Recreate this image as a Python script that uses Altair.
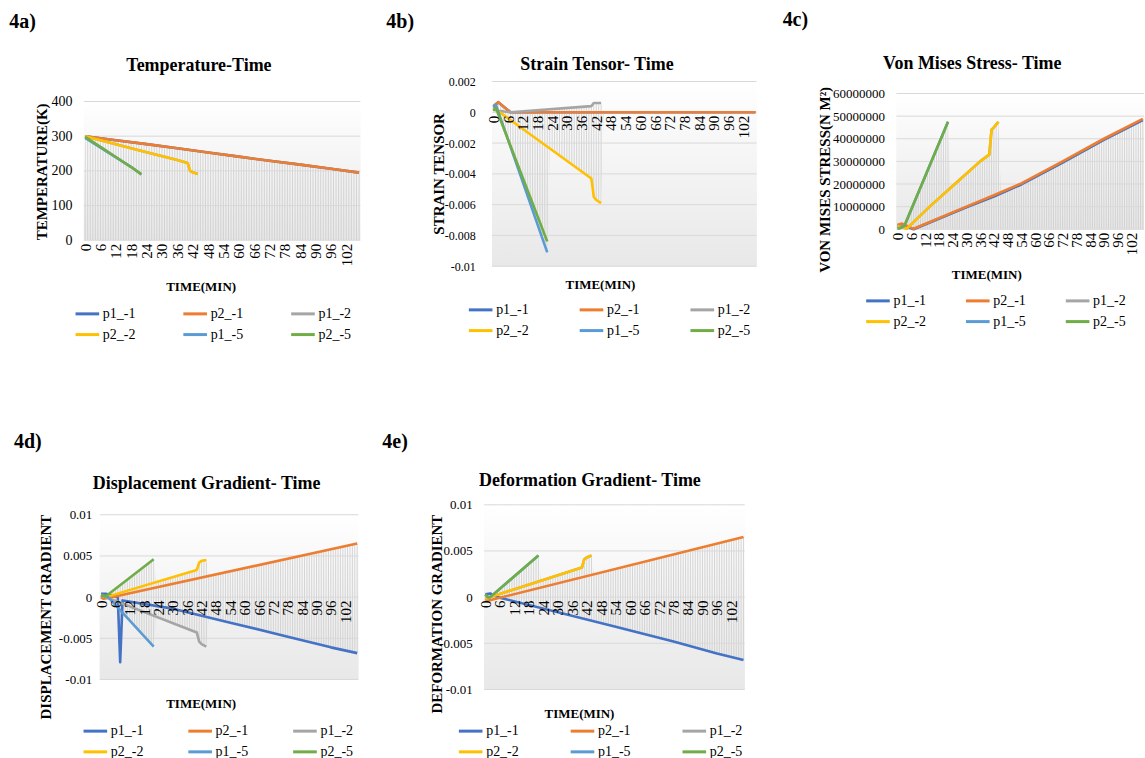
import altair as alt
import pandas as pd

# ---------------- shared data ----------------
SERIES = ["p1_-1", "p2_-1", "p1_-2", "p2_-2", "p1_-5", "p2_-5"]
COLORS = ["#4472C4", "#ED7D31", "#A5A5A5", "#FFC000", "#5B9BD5", "#70AD47"]
MINUTES = list(range(0, 108))          # one category per minute
X_LABELS = list(range(0, 103, 6))      # labelled categories
X_TITLE = "TIME(MIN)"

# ---------------- 4a Temperature ----------------
TEMP_YTICKS = [0, 100, 200, 300, 400]
TEMP_LONG_T = [0, 12, 24, 36, 48, 60, 72, 84, 96, 107]
TEMP_LONG_V = [300, 288, 277, 265, 253, 241, 229, 218, 206, 195]
TEMP_MID_T = [0, 12, 24, 36, 40, 41, 42, 44]
TEMP_MID_V = [300, 277, 254, 231, 223, 200, 196, 191]
TEMP_P15_T = [0, 6, 12, 18, 22]
TEMP_P15_V = [295, 267, 239, 211, 190]
TEMP_P25_T = [0, 6, 12, 18, 22]
TEMP_P25_V = [298, 269, 240, 211, 190]

# ---------------- 4b Strain tensor ----------------
STRAIN_YTICKS = [-0.01, -0.008, -0.006, -0.004, -0.002, 0, 0.002]
STRAIN_P1_T = [0, 2, 7, 107]
STRAIN_P1_V = [0.0004, 0.00066, 0.0, 0.0]
STRAIN_P12_T = [0, 2, 7, 40, 41, 44]
STRAIN_P12_V = [0.0002, 0.0001, 0.0, 0.0004, 0.0006, 0.0006]
STRAIN_P22_T = [0, 40, 41, 42, 44]
STRAIN_P22_V = [0.0003, -0.0043, -0.0055, -0.0057, -0.0059]
STRAIN_P15_T = [0, 1, 22]
STRAIN_P15_V = [0.0003, 0.0005, -0.0091]
STRAIN_P25_T = [0, 1, 22]
STRAIN_P25_V = [0.0001, 0.0003, -0.0084]
STRAIN_TOP_T = [0, 2, 7, 40, 41, 44, 45, 107]
STRAIN_TOP_V = [0.0005, 0.00066, 0.0, 0.0004, 0.0006, 0.0006, 0.0, 0.0]
STRAIN_BOT_T = [0, 2, 22, 23, 40, 41, 42, 44, 45, 107]
STRAIN_BOT_V = [0.0, 0.0, -0.0091, -0.0024, -0.0043, -0.0055, -0.0057, -0.0059, 0.0, 0.0]

# ---------------- 4c Von Mises stress ----------------
VM_YTICKS = [0, 10000000, 20000000, 30000000, 40000000, 50000000, 60000000]
VM_P11_T = [0, 2, 7, 30, 42, 54, 72, 90, 107]
VM_P11_V = [1.5e6, 2.0e6, 0.0, 0.97e7, 1.45e7, 1.98e7, 2.95e7, 3.95e7, 4.82e7]
VM_P21_T = [0, 2, 7, 30, 42, 54, 72, 90, 107]
VM_P21_V = [2.0e6, 2.5e6, 0.2e6, 1.0e7, 1.5e7, 2.03e7, 3.0e7, 4.0e7, 4.88e7]
VM_MID_T = [0, 2, 4, 14, 25, 36, 40, 41, 42, 44]
VM_MID_V = [1.2e6, 1.0e6, 0.3e6, 1.0e7, 2.0e7, 3.0e7, 3.3e7, 4.4e7, 4.5e7, 4.75e7]
VM_SHORT_T = [0, 1, 3, 22]
VM_SHORT_V = [0.3e6, 0.5e6, 1.5e6, 4.75e7]
VM_TOP_T = [0, 2, 3, 4, 22, 23, 25, 36, 40, 41, 42, 44, 45, 54, 72, 90, 107]
VM_TOP_V = [2.0e6, 2.5e6, 2.1e6, 3.9e6, 4.75e7, 1.8e7, 2.0e7, 3.0e7, 3.3e7, 4.4e7,
            4.5e7, 4.75e7, 1.63e7, 2.03e7, 3.0e7, 4.0e7, 4.88e7]

# ---------------- 4d Displacement gradient ----------------
GRAD_YTICKS = [-0.01, -0.005, 0, 0.005, 0.01]
DISP_P11_T = [0, 2, 7, 8, 9, 30, 54, 78, 96, 107]
DISP_P11_V = [0.0004, 0.0004, 0.0, -0.0079, -0.0004, -0.0014, -0.0031, -0.0048, -0.0061, -0.0068]
DISP_P21_T = [0, 1, 3, 107]
DISP_P21_V = [0.0, -0.0002, -0.0001, 0.0065]
DISP_P12_T = [0, 2, 40, 41, 42, 44]
DISP_P12_V = [0.0002, 0.0, -0.0043, -0.0054, -0.0057, -0.006]
DISP_P22_T = [0, 2, 40, 41, 42, 44]
DISP_P22_V = [0.0002, 0.0, 0.0033, 0.0042, 0.0044, 0.0045]
DISP_P15_T = [0, 3, 22]
DISP_P15_V = [0.0002, 0.0, -0.006]
DISP_P25_T = [0, 2, 22]
DISP_P25_V = [0.0003, 0.0001, 0.0046]
DISP_TOP_T = [0, 2, 3, 22, 23, 40, 41, 42, 44, 45, 107]
DISP_TOP_V = [0.0004, 0.0004, 0.0003, 0.0046, 0.0018, 0.0033, 0.0042, 0.0044, 0.0045, 0.0026, 0.0065]
DISP_BOT_T = [0, 2, 7, 8, 9, 22, 23, 40, 41, 42, 44, 45, 54, 78, 96, 107]
DISP_BOT_V = [0.0, 0.0, -0.0013, -0.0079, -0.0019, -0.006, -0.0024, -0.0043, -0.0054,
              -0.0057, -0.006, -0.0025, -0.0031, -0.0048, -0.0061, -0.0068]

# ---------------- 4e Deformation gradient ----------------
DEF_P11_T = [0, 2, 5, 54, 78, 96, 107]
DEF_P11_V = [0.0003, 0.0004, 0.0, -0.0032, -0.0048, -0.0061, -0.0068]
DEF_P21_T = [0, 1, 107]
DEF_P21_V = [-0.0002, -0.0004, 0.0065]
DEF_MID_T = [0, 2, 40, 41, 42, 44]
DEF_MID_V = [-0.0002, 0.0, 0.0032, 0.0041, 0.0043, 0.0045]
DEF_SHORT_T = [0, 1, 2, 22]
DEF_SHORT_V = [0.0003, 0.0, 0.0, 0.0045]
DEF_TOP_T = [0, 2, 3, 22, 23, 40, 41, 42, 44, 45, 107]
DEF_TOP_V = [0.0003, 0.0004, 0.0002, 0.0045, 0.0018, 0.0032, 0.0041, 0.0043, 0.0045, 0.0025, 0.0065]
DEF_BOT_T = [0, 1, 6, 54, 78, 96, 107]
DEF_BOT_V = [-0.0002, -0.0004, -0.0001, -0.0032, -0.0048, -0.0061, -0.0068]

# ---------------- styling ----------------
SERIF = "Liberation Serif"
PLOT_BG = {"gradient": "linear", "x1": 0, "y1": 0, "x2": 0, "y2": 1,
           "stops": [{"offset": 0, "color": "#ffffff"},
                     {"offset": 0.2, "color": "#fafafa"},
                     {"offset": 1, "color": "#e8e8e8"}]}
HATCH = "#cbcbcb"
GRID = "#d9d9d9"


def panel(p):
    ymin, ymax = p["ydomain"]
    H, E = p["plot_h"], p["extra"]
    W, XP = p["plot_w"], p.get("xpad", 0)
    ytop = ymax + E * (ymax - ymin) / H
    xlo = -0.5 - XP * 108.0 / W
    total_h = H + E
    zero_px = (ytop - 0) / (ytop - ymin) * total_h if ymin < 0 else total_h
    xs = alt.Scale(domain=[xlo, 107.5], nice=False, zero=False)
    ys = alt.Scale(domain=[ymin, ytop], nice=False, zero=False)

    xaxis = alt.Axis(values=X_LABELS, labelAngle=-90, labelAlign="right", labelBaseline="middle",
                     labelFont=SERIF, labelFontSize=15, labelColor="#000000", labelPadding=3,
                     labelFlush=False, labelOverlap=False, ticks=False, domain=False, grid=False,
                     zindex=1, offset=zero_px - total_h, title=X_TITLE, titleFont=SERIF,
                     titleFontSize=13, titleFontWeight="bold", titleColor="#000000",
                     titleX=p["xtitle"][0] + XP, titleY=p["xtitle"][1], titleAlign="center",
                     titleBaseline="middle")
    yaxis = alt.Axis(values=p["yticks"], labelExpr="toString(datum.value)", labelFont=SERIF,
                     labelFontSize=p["ylabel_size"], labelColor="#000000",
                     labelPadding=p["ylabel_pad"] - XP, ticks=False, domain=False, grid=False,
                     title=p["ytitle"], titleFont=SERIF, titleFontSize=15, titleFontWeight="bold",
                     titleColor="#000000", titleAngle=270, titleX=p["ytitle_pos"][0] + XP,
                     titleY=p["ytitle_pos"][1], titleAlign="center", titleBaseline="middle")

    def X(f):
        return alt.X(f, type="quantitative", scale=xs, axis=xaxis)

    def Y(f):
        return alt.Y(f, type="quantitative", scale=ys, axis=yaxis)

    layers = []
    # plot-area background
    bg = pd.DataFrame({"a": [-0.5], "b": [107.5], "lo": [ymin], "hi": [ymax]})
    layers.append(alt.Chart(bg).mark_rect(fill=PLOT_BG, strokeWidth=0, opacity=1).encode(
        x=X("a"), x2="b", y=Y("lo"), y2="hi"))
    # drop lines, one per minute category
    hd = pd.DataFrame({"t": MINUTES, "lo": ymin, "hi": ymax})
    layers.append(alt.Chart(hd).mark_rule(color=HATCH, strokeWidth=0.8).encode(
        x=X("t"), y=Y("lo"), y2="hi"))
    # masks outside the drop-line envelope (first row spans the full height so the
    # fill gradient lines up with the background)
    ut, uv = p["upper"]
    rows = [(-0.5, ymin, ymax)] + [(t, v, ymax) for t, v in zip(ut, uv)] + [(107.5, uv[-1], ymax)]
    md = pd.DataFrame(rows, columns=["t", "lo", "hi"])
    layers.append(alt.Chart(md).mark_area(fill=PLOT_BG, opacity=1, strokeWidth=0, interpolate="linear",
                                          orient="vertical").encode(
        x=X("t"), y=Y("lo"), y2="hi"))
    if p.get("lower"):
        lt, lv = p["lower"]
        rows = [(-0.5, ymin, ymax)] + [(t, ymin, v) for t, v in zip(lt, lv)] + [(107.5, ymin, lv[-1])]
        md2 = pd.DataFrame(rows, columns=["t", "lo", "hi"])
        layers.append(alt.Chart(md2).mark_area(fill=PLOT_BG, opacity=1, strokeWidth=0,
                                               interpolate="linear", orient="vertical").encode(
            x=X("t"), y=Y("lo"), y2="hi"))
    # horizontal gridlines
    gd = pd.DataFrame({"v": p["yticks"], "a": -0.5, "b": 107.5})
    layers.append(alt.Chart(gd).mark_rule(color=GRID, strokeWidth=1).encode(
        x=X("a"), x2="b", y=Y("v")))

    legend = alt.Legend(orient="none", legendX=p["legend"][0] + XP, legendY=p["legend"][1], columns=3,
                        direction="horizontal", title=None, symbolType="stroke", symbolSize=560,
                        symbolStrokeWidth=3, labelFont=SERIF, labelFontSize=14, labelColor="#000000",
                        labelOffset=2, columnPadding=p["legend"][2], rowPadding=0, padding=0)
    cscale = alt.Scale(domain=SERIES, range=COLORS)

    for name in SERIES:
        t, v = p["series"][name]
        d = pd.DataFrame({"t": t, "v": v, "series": name})
        layers.append(alt.Chart(d).mark_line(strokeWidth=2.6, strokeJoin="round").encode(
            x=X("t"), y=Y("v"), color=alt.Color("series:N", scale=cscale, legend=legend)))

    # panel label and panel title
    lab = pd.DataFrame({"txt": [p["label"][0]]})
    layers.append(alt.Chart(lab).mark_text(font=SERIF, fontSize=20, fontWeight="bold", align="left",
                                           baseline="middle", color="#000000").encode(
        text="txt:N", x=alt.value(p["label"][1] + XP), y=alt.value(p["label"][2])))
    ttl = pd.DataFrame({"txt": [p["title"][0]]})
    layers.append(alt.Chart(ttl).mark_text(font=SERIF, fontSize=18, fontWeight="bold", align="center",
                                           baseline="middle", color="#000000").encode(
        text="txt:N", x=alt.value(p["title"][1] + XP), y=alt.value(p["title"][2])))
    return alt.layer(*layers).properties(width=W + XP, height=total_h)


def sd(*pairs):
    return {name: pair for name, pair in zip(SERIES, pairs)}


PA = dict(series=sd((TEMP_LONG_T, TEMP_LONG_V), (TEMP_LONG_T, TEMP_LONG_V), (TEMP_MID_T, TEMP_MID_V),
                    (TEMP_MID_T, TEMP_MID_V), (TEMP_P15_T, TEMP_P15_V), (TEMP_P25_T, TEMP_P25_V)),
          upper=(TEMP_LONG_T, TEMP_LONG_V), lower=None, ydomain=(0, 400), yticks=TEMP_YTICKS,
          plot_w=277, plot_h=139, extra=20, ylabel_size=14, ylabel_pad=12,
          ytitle="TEMPERATURE(K)", ytitle_pos=(-42.7, 90), xtitle=(117, 46),
          legend=(-10, 219, 41), label=("4a)", -74.7, -60), title=("Temperature-Time", 115.3, -16))
PB = dict(series=sd((STRAIN_P1_T, STRAIN_P1_V), (STRAIN_P1_T, STRAIN_P1_V), (STRAIN_P12_T, STRAIN_P12_V),
                    (STRAIN_P22_T, STRAIN_P22_V), (STRAIN_P15_T, STRAIN_P15_V), (STRAIN_P25_T, STRAIN_P25_V)),
          upper=(STRAIN_TOP_T, STRAIN_TOP_V), lower=(STRAIN_BOT_T, STRAIN_BOT_V),
          ydomain=(-0.01, 0.002), yticks=STRAIN_YTICKS,
          plot_w=265, plot_h=185, extra=0, ylabel_size=12, ylabel_pad=17,
          ytitle="STRAIN TENSOR", ytitle_pos=(-54, 92), xtitle=(108, 173),
          legend=(-25, 215, 44), label=("4b)", -106, -60), title=("Strain Tensor- Time", 105, -17))
PC = dict(series=sd((VM_P11_T, VM_P11_V), (VM_P21_T, VM_P21_V), (VM_MID_T, VM_MID_V),
                    (VM_MID_T, VM_MID_V), (VM_SHORT_T, VM_SHORT_V), (VM_SHORT_T, VM_SHORT_V)),
          upper=(VM_TOP_T, VM_TOP_V), lower=None, ydomain=(0, 60000000), yticks=VM_YTICKS,
          plot_w=248, plot_h=136, extra=12, ylabel_size=13, ylabel_pad=12,
          ytitle="VON MISES STRESS(N M²)", ytitle_pos=(-72, 98), xtitle=(90, 45),
          legend=(-32, 206, 33), label=("4c)", -114, -62), title=("Von Mises Stress- Time", 76, -18))
PD = dict(series=sd((DISP_P11_T, DISP_P11_V), (DISP_P21_T, DISP_P21_V), (DISP_P12_T, DISP_P12_V),
                    (DISP_P22_T, DISP_P22_V), (DISP_P15_T, DISP_P15_V), (DISP_P25_T, DISP_P25_V)),
          upper=(DISP_TOP_T, DISP_TOP_V), lower=(DISP_BOT_T, DISP_BOT_V),
          ydomain=(-0.01, 0.01), yticks=GRAD_YTICKS,
          plot_w=259, plot_h=165, extra=10, xpad=16, ylabel_size=13, ylabel_pad=8,
          ytitle="DISPLACEMENT GRADIENT", ytitle_pos=(-54, 112), xtitle=(101, 106.5),
          legend=(-18, 213, 38), label=("4d)", -86, -63), title=("Displacement Gradient- Time", 107, -21))
PE = dict(series=sd((DEF_P11_T, DEF_P11_V), (DEF_P21_T, DEF_P21_V), (DEF_MID_T, DEF_MID_V),
                    (DEF_MID_T, DEF_MID_V), (DEF_SHORT_T, DEF_SHORT_V), (DEF_SHORT_T, DEF_SHORT_V)),
          upper=(DEF_TOP_T, DEF_TOP_V), lower=(DEF_BOT_T, DEF_BOT_V),
          ydomain=(-0.01, 0.01), yticks=GRAD_YTICKS,
          plot_w=261, plot_h=185, extra=0, ylabel_size=13, ylabel_pad=12,
          ytitle="DEFORMATION GRADIENT", ytitle_pos=(-48, 109), xtitle=(95, 116.5),
          legend=(-27, 213, 45), label=("4e)", -102, -63), title=("Deformation Gradient- Time", 106, -24))

RES = dict(x="independent", y="independent", color="independent")
top = alt.hconcat(panel(PA), panel(PB), panel(PC), spacing=25).resolve_scale(**RES).resolve_legend(color="independent")
bottom = alt.hconcat(panel(PD), panel(PE), spacing=23).resolve_scale(**RES).resolve_legend(color="independent")
chart = (alt.vconcat(top, bottom, spacing=90)
         .resolve_scale(**RES).resolve_legend(color="independent")
         .properties(padding={"left": 9, "top": 9, "right": 0, "bottom": 0}, background="white")
         .configure_view(stroke=None))

chart.save("out.html", embed_options={"renderer": "svg", "actions": False})
